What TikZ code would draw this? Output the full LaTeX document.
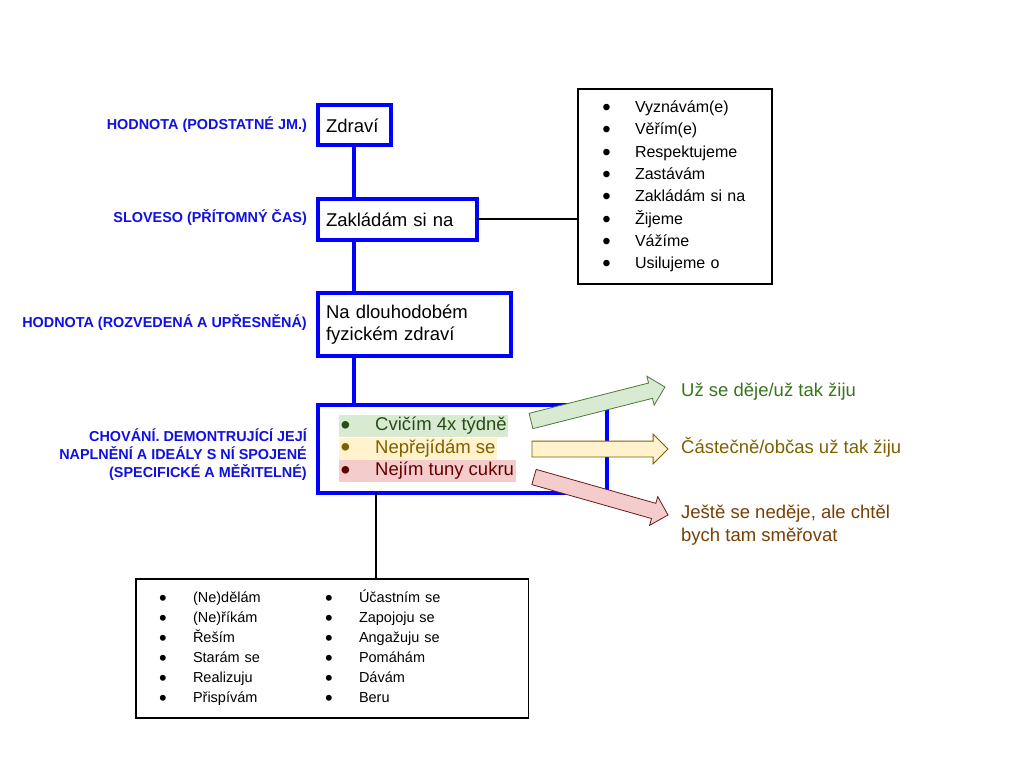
\documentclass[tikz,border=0pt]{standalone}
\usepackage{fontspec}
\usepackage{graphicx}
\setmainfont{Liberation Sans}
\usetikzlibrary{shapes.arrows}
\definecolor{bl}{HTML}{0000FF}
\definecolor{lbl}{HTML}{1010E0}
\definecolor{gfill}{HTML}{D9EAD3}
\definecolor{gtext}{HTML}{274E13}
\definecolor{glab}{HTML}{38761D}
\definecolor{yfill}{HTML}{FFF2CC}
\definecolor{ytext}{HTML}{7F6000}
\definecolor{rfill}{HTML}{F4CCCC}
\definecolor{rtext}{HTML}{660000}
\definecolor{rlab}{HTML}{783F04}
\newcommand{\mybul}[2]{\makebox[#1][l]{\hspace{#2}\raisebox{-0.18em}{\scalebox{1.5}{•}}}}
\begin{document}
\begin{tikzpicture}[x=1pt,y=-1pt,
  bluebox/.style={draw=bl, line width=4pt, rectangle, anchor=north west, outer sep=0pt, inner xsep=8pt, inner ysep=0pt, align=left, font=\fontsize{18.5}{22}\selectfont},
  blackbox/.style={draw=black, line width=1.8pt, rectangle, anchor=north west, outer sep=0pt, inner sep=0pt, align=left},
  bluelink/.style={draw=bl, line width=4pt},
  blacklink/.style={draw=black, line width=1.8pt},
  sidelabel/.style={anchor=east, align=right, text=lbl, inner sep=0pt, font=\bfseries\fontsize{14.4}{18}\selectfont},
  item/.style={anchor=west, inner xsep=1.5pt, inner ysep=0pt, minimum height=22pt, font=\fontsize{18.5}{22}\selectfont},
  outcome/.style={anchor=west, align=left, inner sep=0pt, font=\fontsize{18.5}{23}\selectfont},
  blockarrow/.style={single arrow, draw, line width=0.8pt, anchor=tail, inner xsep=0pt, inner ysep=7.5pt, outer sep=0pt, single arrow head extend=7pt, single arrow tip angle=90}
]
\useasboundingbox[fill=white] (0,0) rectangle (1024,768);

% left labels
\node[sidelabel] (l1) at (307,125) {HODNOTA (PODSTATNÉ JM.)};
\node[sidelabel] (l2) at (307,218) {SLOVESO (PŘÍTOMNÝ ČAS)};
\node[sidelabel] (l3) at (307,323) {HODNOTA (ROZVEDENÁ A UPŘESNĚNÁ)};
\node[sidelabel] (l4) at (307,455) {CHOVÁNÍ. DEMONTRUJÍCÍ JEJÍ\\NAPLNĚNÍ A IDEÁLY S NÍ SPOJENÉ\\(SPECIFICKÉ A MĚŘITELNÉ)};

% main chain
\node[bluebox, minimum width=72.5pt, minimum height=40pt, text width=56.5pt] (zdravi) at (318,105.3) {Zdraví};
\node[bluebox, minimum width=159pt, minimum height=40.7pt, text width=143pt] (zak) at (318,199) {Zakládám si na};
\node[bluebox, minimum width=193pt, minimum height=62.5pt, text width=177pt] (nadl) at (318,293) {Na dlouhodobém\\fyzickém zdraví};
\node[bluebox, minimum width=288.7pt, minimum height=87.7pt] (chov) at (318,405.3) {};

\draw[bluelink] (zdravi.south) -- (zdravi.south |- zak.north);
\draw[bluelink] (zdravi.south |- zak.south) -- (zdravi.south |- nadl.north);
\draw[bluelink] (zdravi.south |- nadl.south) -- (zdravi.south |- chov.north);

% verbs list
\node[blackbox, minimum width=194pt, minimum height=195pt, inner xsep=24pt, text width=146pt, font=\fontsize{16}{22.3}\selectfont] (verbs) at (578,89)
 {\mybul{33pt}{0.3pt}Vyznávám(e)\\
  \mybul{33pt}{0.3pt}Věřím(e)\\
  \mybul{33pt}{0.3pt}Respektujeme\\
  \mybul{33pt}{0.3pt}Zastávám\\
  \mybul{33pt}{0.3pt}Zakládám si na\\
  \mybul{33pt}{0.3pt}Žijeme\\
  \mybul{33pt}{0.3pt}Vážíme\\
  \mybul{33pt}{0.3pt}Usilujeme o};
\draw[blacklink] (zak.east) -- (zak.east -| verbs.west);

% behaviour items
\node[item, fill=gfill, text=gtext] (i1) at (339,426) {\mybul{34.5pt}{0pt}Cvičím 4x týdně};
\node[item, fill=yfill, text=ytext] (i2) at (339,448.5) {\mybul{34.5pt}{0pt}Nepřejídám se};
\node[item, fill=rfill, text=rtext] (i3) at (339,471) {\mybul{34.5pt}{0pt}Nejím tuny cukru};

% activities list
\node[blackbox, minimum width=392.5pt, minimum height=139pt, inner xsep=21pt, text width=350.5pt, font=\fontsize{14.5}{20}\selectfont] (acts) at (136,579)
 {\begin{tabular}{@{}p{166.5pt}@{}l@{}}
  \mybul{36pt}{2.2pt}(Ne)dělám & \mybul{35.5pt}{1.7pt}Účastním se\\
  \mybul{36pt}{2.2pt}(Ne)říkám & \mybul{35.5pt}{1.7pt}Zapojoju se\\
  \mybul{36pt}{2.2pt}Řeším & \mybul{35.5pt}{1.7pt}Angažuju se\\
  \mybul{36pt}{2.2pt}Starám se & \mybul{35.5pt}{1.7pt}Pomáhám\\
  \mybul{36pt}{2.2pt}Realizuju & \mybul{35.5pt}{1.7pt}Dávám\\
  \mybul{36pt}{2.2pt}Přispívám & \mybul{35.5pt}{1.7pt}Beru
  \end{tabular}};
\coordinate (down) at (376,0);
\draw[blacklink] (down |- chov.south) -- (down |- acts.north);

% block arrows
\node[blockarrow, fill=gfill, draw=glab!70!gray, rotate=14.24, minimum height=138.2pt] (a1) at (531,421) {};
\node[blockarrow, fill=yfill, draw=ytext, rotate=0, minimum height=136pt] (a2) at (532,449) {};
\node[blockarrow, fill=rfill, draw=rtext!80!gray, rotate=-15.83, minimum height=139.3pt] (a3) at (534,477) {};

% outcomes
\node[outcome, text=glab] (o1) at (681,392) {Už se děje/už tak žiju};
\node[outcome, text=ytext] (o2) at (681,447) {Částečně/občas už tak žiju};
\node[outcome, text=rlab] (o3) at (681,525) {Ještě se neděje, ale chtěl\\bych tam směřovat};
\end{tikzpicture}
\end{document}
